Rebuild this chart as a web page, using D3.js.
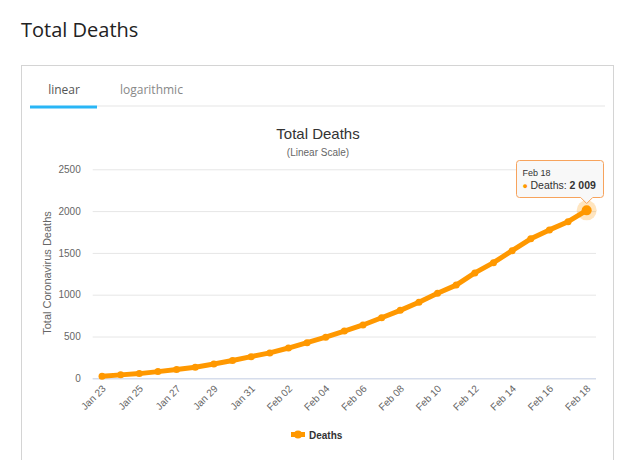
<!DOCTYPE html>
<html>
<head>
<meta charset="utf-8">
<script src="https://cdn.jsdelivr.net/npm/d3@7"></script>
<style>
  html, body { margin: 0; padding: 0; background: #fff; }
  svg { display: block; }
</style>
</head>
<body>
<svg id="chart" width="640" height="460"></svg>
<script>
// ---- data ----
const categories = ["Jan 23","Jan 24","Jan 25","Jan 26","Jan 27","Jan 28","Jan 29","Jan 30","Jan 31",
  "Feb 01","Feb 02","Feb 03","Feb 04","Feb 05","Feb 06","Feb 07","Feb 08","Feb 09","Feb 10",
  "Feb 11","Feb 12","Feb 13","Feb 14","Feb 15","Feb 16","Feb 17","Feb 18"];
const deaths = [25,41,56,80,106,132,170,213,259,304,362,426,492,565,638,724,813,910,1018,
  1115,1261,1383,1526,1669,1775,1873,2009];
const yTicks = [0,500,1000,1500,2000,2500];
const seriesName = "Deaths";
const tabs = ["linear","logarithmic"];

const ORANGE = "#ff9800";
const chartFont = "'Liberation Sans', Arial, sans-serif";
const pageFont = "'Open Sans', 'Noto Sans', sans-serif";

const svg = d3.select("#chart");

// page title
svg.append("text").attr("x", 21).attr("y", 37)
  .attr("font-family", pageFont).attr("font-size", 20).attr("fill", "#222")
  .text("Total Deaths");

// card
svg.append("rect").attr("x", 21.5).attr("y", 65.5).attr("width", 592).attr("height", 420)
  .attr("fill", "#fff").attr("stroke", "#d4d4d4").attr("stroke-width", 1);

// tabs
svg.append("rect").attr("x", 97).attr("y", 105).attr("width", 508).attr("height", 2).attr("fill", "#f2f2f2");
svg.append("rect").attr("x", 30).attr("y", 105.5).attr("width", 67).attr("height", 3).attr("fill", "#29b6f6");
svg.append("text").attr("x", 64).attr("y", 94).attr("text-anchor", "middle")
  .attr("font-family", pageFont).attr("font-size", 12).attr("fill", "#555").text(tabs[0]);
svg.append("text").attr("x", 120).attr("y", 94)
  .attr("font-family", pageFont).attr("font-size", 12).attr("fill", "#888").text(tabs[1]);

// chart titles
svg.append("text").attr("x", 318).attr("y", 139).attr("text-anchor", "middle")
  .attr("font-family", chartFont).attr("font-size", 15).attr("fill", "#333").text("Total Deaths");
svg.append("text").attr("x", 318).attr("y", 156).attr("text-anchor", "middle")
  .attr("font-family", chartFont).attr("font-size", 10).attr("fill", "#666").text("(Linear Scale)");

// scales
const x = d3.scalePoint().domain(categories).range([92.7, 596]).padding(0.5);
const y = d3.scaleLinear().domain([0, 2500]).range([378.3, 169.3]);

// gridlines + y labels
const yAxis = d3.axisLeft(y).tickValues(yTicks).tickFormat(d3.format("d"))
  .tickSize(-(596 - 92.7)).tickPadding(12);
const gy = svg.append("g").attr("transform", "translate(92.7,0)").call(yAxis);
gy.select(".domain").remove();
gy.selectAll(".tick line").attr("stroke", "#e6e6e6");
gy.selectAll(".tick text").attr("font-family", chartFont).attr("font-size", 10).attr("fill", "#666");

// x axis
const xAxis = d3.axisBottom(x)
  .tickValues(categories.filter((d, i) => i % 2 === 0)).tickSize(0).tickPadding(0);
const gx = svg.append("g").attr("transform", "translate(0,378.3)").call(xAxis);
gx.select(".domain").attr("stroke", "#ccd6eb").attr("d", "M92.7,0.5H596");
gx.selectAll(".tick text")
  .attr("font-family", chartFont).attr("font-size", 10).attr("fill", "#666")
  .attr("text-anchor", "end").attr("dy", null).attr("y", 0)
  .attr("transform", "translate(4,11) rotate(-45)");

// y axis title
svg.append("text").attr("transform", "translate(51,273) rotate(-90)")
  .attr("text-anchor", "middle").attr("font-family", chartFont).attr("font-size", 11)
  .attr("fill", "#666").text("Total Coronavirus Deaths");

// line
const line = d3.line().x((d, i) => x(categories[i])).y(d => y(d));
svg.append("path").datum(deaths).attr("d", line)
  .attr("fill", "none").attr("stroke", ORANGE).attr("stroke-width", 5)
  .attr("stroke-linejoin", "round").attr("stroke-linecap", "round");
svg.append("g").selectAll("circle").data(deaths).join("circle")
  .attr("cx", (d, i) => x(categories[i])).attr("cy", d => y(d)).attr("r", 3.5)
  .attr("fill", ORANGE);

// hover halo on last point
const li = deaths.length - 1;
const lx = x(categories[li]), ly = y(deaths[li]);
svg.append("circle").attr("cx", lx).attr("cy", ly).attr("r", 10).attr("fill", ORANGE).attr("opacity", 0.25);
svg.append("circle").attr("cx", lx).attr("cy", ly).attr("r", 5).attr("fill", ORANGE);

// tooltip
const tx = 516.5, ty = 160.5, tw = 87, th = 37;
const tip = svg.append("g");
tip.append("path")
  .attr("d", `M${tx + 3},${ty} H${tx + tw - 3} Q${tx + tw},${ty} ${tx + tw},${ty + 3} V${ty + th - 3} Q${tx + tw},${ty + th} ${tx + tw - 3},${ty + th}
     H${lx + 6} L${lx},${ty + th + 6} L${lx - 6},${ty + th} H${tx + 3} Q${tx},${ty + th} ${tx},${ty + th - 3} V${ty + 3} Q${tx},${ty} ${tx + 3},${ty} Z`)
  .attr("fill", "rgba(247,247,247,0.9)").attr("stroke", "#f7a35c").attr("stroke-width", 1);
tip.append("text").attr("x", tx + 6).attr("y", ty + 15)
  .attr("font-family", chartFont).attr("font-size", 9).attr("fill", "#333").text(categories[li]);
tip.append("text").attr("x", tx + 6).attr("y", ty + 28)
  .attr("font-family", chartFont).attr("font-size", 9).attr("fill", ORANGE).text("●");
const t2 = tip.append("text").attr("x", tx + 14).attr("y", ty + 28)
  .attr("font-family", chartFont).attr("font-size", 10.5).attr("fill", "#333");
t2.append("tspan").text(seriesName + ": ");
t2.append("tspan").attr("font-weight", "bold").text(d3.format(",")(deaths[li]).replace(/,/g, " "));

// legend
const lg = svg.append("g");
lg.append("line").attr("x1", 291).attr("x2", 305).attr("y1", 434.5).attr("y2", 434.5)
  .attr("stroke", ORANGE).attr("stroke-width", 5);
lg.append("circle").attr("cx", 298).attr("cy", 434.5).attr("r", 4).attr("fill", ORANGE);
lg.append("text").attr("x", 309).attr("y", 438.5)
  .attr("font-family", chartFont).attr("font-size", 10).attr("font-weight", "bold")
  .attr("fill", "#333").text(seriesName);
</script>
</body>
</html>
